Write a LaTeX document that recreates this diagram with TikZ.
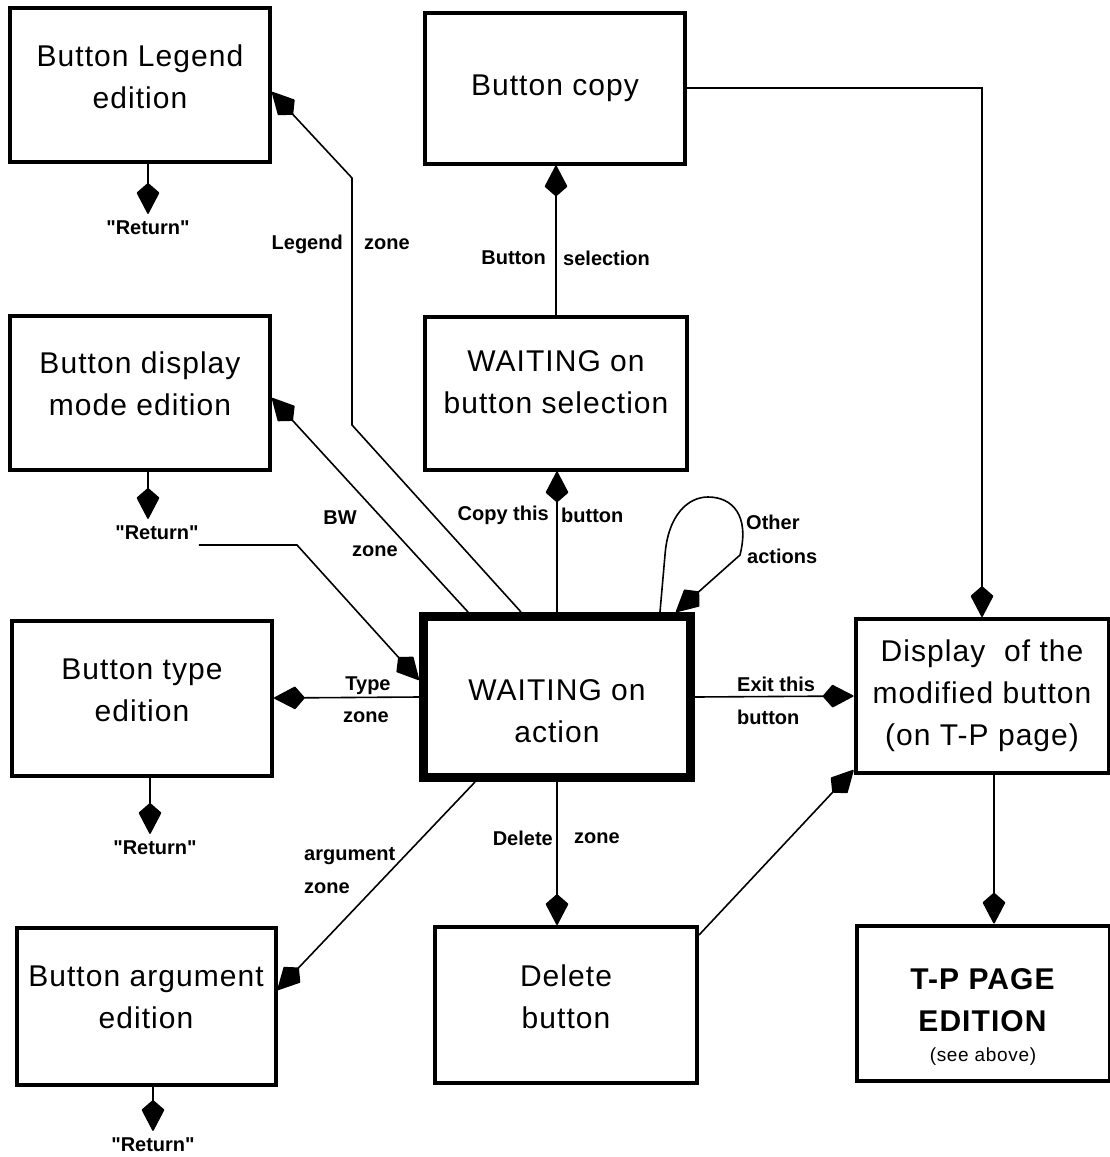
\documentclass[tikz,border=0pt]{standalone}
\usepackage{fontspec}
\setmainfont{Liberation Sans}[Ligatures=TeXOff]
\newfontfamily\bxfam{Liberation Sans}[Ligatures=TeXOff, LetterSpace=3.5]
\usetikzlibrary{arrows.meta,calc}
\newcommand\bxf{\bxfam\fontsize{30}{42}\selectfont}
\newcommand\lbf{\fontsize{20}{32}\selectfont\bfseries}
\newcommand\vsh[2]{\raisebox{#1}[\height][\depth]{\begin{tabular}{@{}c@{}}#2\end{tabular}}}
\begin{document}
\begin{tikzpicture}[x=1pt,y=-1pt,
  box/.style={draw, line width=4pt, inner sep=0pt, align=center, font=\bxf},
  mainbox/.style={box, line width=9pt},
  conn/.style={line width=1.6pt},
  arr/.style={conn, -{Kite[length=32pt,width=23pt,inset=10pt,round]}},
  lab/.style={font=\lbf, inner sep=0pt, align=left}]
\useasboundingbox (0,0) rectangle (1110,1157);
\fill[white] (0,0) rectangle (1110,1157);

% boxes
\node[box, minimum width=260pt, minimum height=154pt] (leg) at (140,85) {\vsh{6pt}{Button Legend\\edition}};
\node[box, minimum width=260pt, minimum height=151pt] (copy) at (555,88) {Button copy};
\node[box, minimum width=260pt, minimum height=154pt] (disp) at (140,393) {\vsh{7pt}{Button display\\mode edition}};
\node[box, minimum width=262pt, minimum height=153pt] (wsel) at (556,393) {\vsh{9pt}{WAITING on\\button selection}};
\node[box, minimum width=260pt, minimum height=155pt] (type) at (142,698) {\vsh{6pt}{Button type\\edition}};
\node[mainbox, minimum width=267pt, minimum height=161pt] (wact) at (557,697) {\vsh{-16pt}{WAITING on\\action}};
\node[box, minimum width=253pt, minimum height=154pt] (mod) at (982,696) {Display\ \ of the\\modified button\\(on T-P page)};
\node[box, minimum width=259pt, minimum height=157pt] (arg) at (146,1006) {\vsh{7pt}{Button argument\\edition}};
\node[box, minimum width=262pt, minimum height=156pt] (del) at (566,1005) {\vsh{6pt}{Delete\\button}};
\node[box, minimum width=253pt, minimum height=155pt] (tp) at (983,1003) {\vsh{-14pt}{\textbf{T-P PAGE}\\\textbf{EDITION}\\[-12pt]{\fontsize{19}{24}\selectfont (see above)}}};

% Return labels
\node[lab] (ret1) at (148,228) {"Return"};
\node[lab] (ret2) at (157,533) {"Return"};
\node[lab] (ret3) at (155,848) {"Return"};
\node[lab] (ret4) at (153,1145) {"Return"};

\coordinate (s1) at (leg.south -| ret1);
\coordinate (s2) at (disp.south -| ret1);
\coordinate (s3) at ($(type.south)+(8,0)$);
\coordinate (s4) at ($(arg.south)+(7,0)$);
\draw[arr] (s1) -- ($(s1 |- ret1.north)+(0,-7)$);
\draw[arr] (s2) -- ($(s2 |- ret2.north)+(0,-7)$);
\draw[arr] (s3) -- ($(s3 |- ret3.north)+(0,-7)$);
\draw[arr] (s4) -- ($(s4 |- ret4.north)+(0,-7)$);

% bends
\coordinate (lzb) at (352,425);
\coordinate (lzt) at (352,178);
\coordinate (r2b) at (297,545);
\coordinate (lp1) at (665,555);
\coordinate (lp2) at (708,497);
\coordinate (lp3) at (740,555);

% connectors
\draw[arr] ($(wact.north)+(-36,0)$) -- (lzb) -- (lzt) -- ($(leg.east)+(0,7)$);
\draw[arr] ($(wact.north)+(-89,0)$) -- ($(disp.east)+(0,5)$);
\draw[arr] ($(ret2.east)+(0,12)$) -- (r2b) -- ($(wact.west)+(0,-17)$);
\draw[arr] (wact.west) -- (type.east);
\draw[arr] ($(wact.south)+(-82,0)$) -- ($(arg.east)+(0,-16)$);
\draw[arr] (wact.south) -- (wact.south |- del.north);
\draw[arr] ($(del.north east)+(0,10)$) -- ($(mod.south west)+(0,-5)$);
\draw[arr] (wact.east) -- (mod.west);
\draw[arr] (wact.north) -- (wact.north |- wsel.south);
\draw[arr] (wsel.north) -- (wsel.north |- copy.south);
\draw[arr] (copy.east) -| (mod.north);
\coordinate (m2) at ($(mod.south)+(12,0)$);
\draw[arr] (m2) -- (m2 |- tp.north);
\draw[arr] ($(wact.north)+(103,0)$) -- (lp1) .. controls (668,515) and (688,497) .. (lp2)
  .. controls (732,497) and (750,515) .. (lp3) -- ($(wact.north)+(119,0)$);

% labels
\node[lab, anchor=east] (l1a) at (343,244) {Legend};
\node[lab, anchor=west] (l1b) at (364,244) {zone};
\node[lab, anchor=east] (l2a) at (546,258) {Button};
\node[lab, anchor=west] (l2b) at (563,258) {selection};
\node[lab] (l3a) at (340,518) {BW};
\node[lab] (l3b) at (375,551) {zone};
\node[lab, anchor=east] (l4a) at (549,515) {Copy this};
\node[lab, anchor=west] (l4b) at (561,515) {button};
\node[lab, anchor=west] (l5a) at (746,522) {Other};
\node[lab, anchor=west] (l5b) at (747,556) {actions};
\node[lab] (l6a) at (368,686) {Type};
\node[lab] (l6b) at (366,717) {zone};
\node[lab, anchor=west] (l7a) at (737,684) {Exit this};
\node[lab, anchor=west] (l7b) at (737,717) {button};
\node[lab, anchor=west] (l8a) at (304,856) {argument};
\node[lab, anchor=west] (l8b) at (304,888) {zone};
\node[lab, anchor=east] (l9a) at (553,838) {Delete};
\node[lab, anchor=west] (l9b) at (574,838) {zone};
\end{tikzpicture}
\end{document}
